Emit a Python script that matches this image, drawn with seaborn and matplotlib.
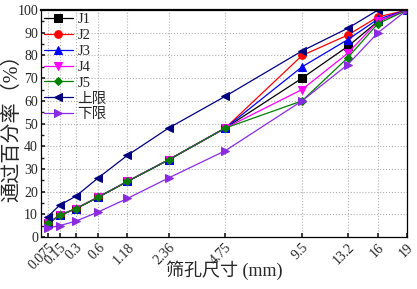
import numpy as np
import pandas as pd
import matplotlib
matplotlib.use("Agg")
import matplotlib.pyplot as plt
import seaborn as sns

sizes = [0.075, 0.15, 0.3, 0.6, 1.18, 2.36, 4.75, 9.5, 13.2, 16, 19]
size_labels = ["0.075", "0.15", "0.3", "0.6", "1.18", "2.36", "4.75", "9.5", "13.2", "16", "19"]

j1 = [6, 9.5, 12.5, 17.5, 24.5, 34, 48, 70, 84, 95, 100]
j2 = [6, 9.5, 12.5, 17.5, 24.5, 34, 48, 80, 89, 97, 100]
j3 = [6, 9.5, 12.5, 17.5, 24.5, 34, 48, 75, 87, 96, 100]
j4 = [6, 9.5, 12.5, 17.5, 24.5, 34, 48, 65, 81, 95, 100]
j5 = [6, 9.5, 12.5, 17.5, 24.5, 34, 48, 60, 79, 94, 100]
upper = [9, 14, 18, 26, 36, 48, 62, 82, 92, 100, 100]
lower = [4, 5, 7, 11, 17, 26, 38, 60, 76, 90, 100]

series = [
    ("J1", j1, "black", "s"),
    ("J2", j2, "red", "o"),
    ("J3", j3, "blue", "^"),
    ("J4", j4, "magenta", "v"),
    ("J5", j5, "#008000", "D"),
    ("上限", upper, "#000080", "<"),
    ("下限", lower, "#8A2BE2", ">"),
]

sns.set_theme(style="ticks")
plt.rcParams["font.family"] = ["Liberation Serif", "Noto Sans CJK SC"]
plt.rcParams["axes.unicode_minus"] = False

fig = plt.figure(figsize=(4.17, 2.89), dpi=100)
ax = fig.add_axes([0.098, 0.18, 0.878, 0.785])

p = 0.45
ax.set_xscale("function", functions=(lambda x: np.power(np.clip(x, 1e-9, None), p),
                                     lambda x: np.power(np.clip(x, 1e-9, None), 1 / p)))

for name, vals, color, marker in series:
    ms = 4.5 if marker == "D" else 5.5
    sns.lineplot(x=sizes, y=vals, color=color, marker=marker, markersize=ms,
                 markeredgecolor=color, linewidth=0.9, label=name, ax=ax)

ax.set_xlim(0.044, 19)
ax.set_ylim(0, 100)
ax.set_xticks(sizes)
ax.set_xticklabels(size_labels, rotation=45, ha="right", rotation_mode="anchor", fontsize=10)
ax.xaxis.set_minor_locator(matplotlib.ticker.NullLocator())
ax.set_yticks(range(0, 101, 10))
ax.set_yticks(range(5, 100, 10), minor=True)
ax.tick_params(axis="y", labelsize=10, direction="in", length=3, pad=2)
ax.tick_params(axis="y", which="minor", direction="in", length=2)
ax.tick_params(axis="x", direction="in", length=3, pad=3)

ax.grid(True, which="major", linestyle=":", color="#b0b0b0", linewidth=0.8)
for s in ax.spines.values():
    s.set_color("black")
    s.set_linewidth(0.9)
ax.spines["top"].set_linewidth(1.6)

ax.set_xlabel("筛孔尺寸 (mm)", fontsize=13)
ax.xaxis.set_label_coords(0.5, -0.105)
ax.set_ylabel("通过百分率（%）", fontsize=14.5)
ax.yaxis.set_label_coords(-0.05, 0.5)

ax.legend(loc="upper left", frameon=False, fontsize=10.5, handlelength=2.0,
          handletextpad=0.3, labelspacing=0.18, borderaxespad=0.0, borderpad=0.2)

fig.savefig("out.png", dpi=100)
